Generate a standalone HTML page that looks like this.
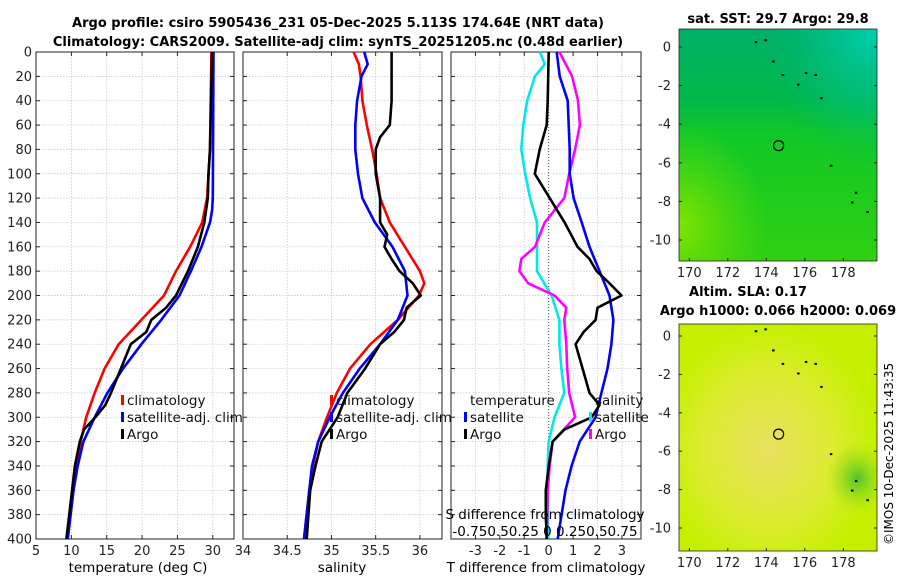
<!DOCTYPE html>
<html><head><meta charset="utf-8"><style>
body{margin:0;background:#fff;width:900px;height:580px;overflow:hidden}
svg{display:block;font-family:"DejaVu Sans","Liberation Sans",sans-serif}
</style></head><body>
<svg id="fig" width="900" height="580" viewBox="0 0 900 580" xmlns="http://www.w3.org/2000/svg">
<defs>
<linearGradient id="sstV" x1="0" y1="0" x2="0" y2="1">
<stop offset="0" stop-color="#00b068"/><stop offset="0.3" stop-color="#00b848"/><stop offset="0.45" stop-color="#10c828"/><stop offset="1" stop-color="#30d010"/></linearGradient>
<radialGradient id="sstTR" cx="1" cy="0" r="0.6"><stop offset="0" stop-color="#00d0b0"/><stop offset="0.5" stop-color="#00c498" stop-opacity="0.5"/><stop offset="1" stop-color="#00b070" stop-opacity="0"/></radialGradient>
<radialGradient id="sstBL" cx="0" cy="0.85" r="0.45"><stop offset="0" stop-color="#80e400"/><stop offset="1" stop-color="#60dc10" stop-opacity="0"/></radialGradient>
<radialGradient id="slaC" cx="0.45" cy="0.55" r="0.55"><stop offset="0" stop-color="#e8e060"/><stop offset="0.6" stop-color="#dcec30"/><stop offset="1" stop-color="#c4f000"/></radialGradient>
<radialGradient id="slaG" cx="0.9" cy="0.68" r="0.16"><stop offset="0" stop-color="#50c030"/><stop offset="1" stop-color="#a0e010" stop-opacity="0"/></radialGradient>
</defs>
<g id="plots"></g>
<text x="338" y="27" text-anchor="middle" font-size="13" font-weight="bold">Argo profile: csiro 5905436_231 05-Dec-2025 5.113S 174.64E (NRT data)</text>
<text x="338" y="46" text-anchor="middle" font-size="13" font-weight="bold">Climatology: CARS2009. Satellite-adj clim: synTS_20251205.nc (0.48d earlier)</text>
<text x="138" y="572" text-anchor="middle" font-size="13.5">temperature (deg C)</text>
<text x="342" y="572" text-anchor="middle" font-size="13.5">salinity</text>
<text x="546" y="572" text-anchor="middle" font-size="13.5">T difference from climatology</text>
<text x="545" y="519" text-anchor="middle" font-size="13.5">S difference from climatology</text>
<text x="545" y="536" text-anchor="middle" font-size="13.5">-0.750.50.25 0 0.250.50.75</text>
<text x="778" y="23" text-anchor="middle" font-size="13" font-weight="bold">sat. SST: 29.7 Argo: 29.8</text>
<text x="748" y="296" text-anchor="middle" font-size="13" font-weight="bold">Altim. SLA: 0.17</text>
<text x="778" y="315" text-anchor="middle" font-size="13" font-weight="bold">Argo h1000: 0.066 h2000: 0.069</text>
<text transform="translate(893,545) rotate(-90)" font-size="12">©IMOS 10-Dec-2025 11:43:35</text>
</svg>
<script>
const depthTicks=[0,20,40,60,80,100,120,140,160,180,200,220,240,260,280,300,320,340,360,380,400];
const tempTicks=[5,10,15,20,25,30];
const salTicks=[34,34.5,35,35.5,36];
const diffTicks=[-3,-2,-1,0,1,2,3];
const latTicks=[0,-2,-4,-6,-8,-10];
const lonTicks=[170,172,174,176,178];
// temperature profiles
const climTDepth=[0,80,120,140,160,180,200,220,240,260,280,300,320,340,360,400];
const climT=[29.8,29.6,29.2,28.5,26.8,24.8,23.1,19.9,16.7,14.7,13.3,12.1,11.3,10.7,10.3,9.4];
const satTDepth=[0,120,130,140,160,180,200,220,240,260,280,300,320,340,360,400];
const satT=[30.1,30.0,29.9,29.6,28.4,26.9,25.3,22.7,19.9,17.3,15.1,13.3,11.7,10.9,10.3,9.5];
const argoTDepth=[0,80,100,120,140,160,180,200,210,220,230,240,260,280,290,300,310,320,340,360,400];
const argoT=[29.9,29.6,29.4,29.3,28.8,27.9,26.5,24.8,23.4,21.3,20.6,18.4,17.0,15.6,14.8,13.4,11.8,11.2,10.5,10.1,9.3];
// salinity profiles
const climSDepth=[0,10,20,40,60,80,100,120,140,160,180,190,200,220,240,260,280,300,320,340,360,400];
const climS=[35.25,35.31,35.33,35.35,35.40,35.46,35.51,35.55,35.66,35.83,36.00,36.05,35.99,35.75,35.44,35.21,35.06,34.95,34.85,34.79,34.75,34.69];
const satSDepth=[0,10,20,40,60,80,100,120,140,160,180,200,220,240,260,280,300,320,340,360,400];
const satS=[35.37,35.41,35.34,35.29,35.27,35.27,35.30,35.35,35.49,35.69,35.83,35.86,35.75,35.55,35.32,35.13,34.98,34.85,34.78,34.75,34.69];
const argoSDepth=[0,40,60,70,80,100,120,140,150,160,170,180,190,200,210,220,230,240,260,280,300,320,340,360,400];
const argoS=[35.68,35.68,35.66,35.55,35.50,35.50,35.55,35.55,35.63,35.60,35.68,35.77,35.92,36.01,35.85,35.82,35.71,35.55,35.38,35.18,35.07,34.89,34.82,34.76,34.72];
// differences
const tSatDiffDepth=[0,20,40,60,80,100,120,140,160,180,200,220,240,260,280,300,320,340,360,380,400];
const tSatDiff=[0.33,0.45,0.78,0.82,0.86,0.86,1.02,1.35,1.67,2.08,2.49,2.65,2.57,2.41,2.16,1.92,1.27,0.94,0.69,0.53,0.37];
const tArgoDiffDepth=[0,40,60,80,100,120,140,160,170,180,190,200,210,220,230,240,260,280,290,300,310,320,340,360,380,400];
const tArgoDiff=[0,-0.04,-0.08,-0.37,-0.57,0.04,0.65,1.18,1.67,1.96,2.49,2.98,2.0,1.92,1.43,1.1,1.39,1.67,2.08,1.76,0.65,0.16,0,-0.12,-0.12,-0.08];
const sSatDiffDepth=[0,10,20,40,60,80,100,120,140,160,180,200,220,240,260,280,300,320,340,360,400];
const sSatDiff=[-0.09,-0.04,-0.14,-0.22,-0.26,-0.28,-0.24,-0.19,-0.12,-0.12,-0.12,0.03,0.11,0.11,0.13,0.16,0.06,0,-0.01,-0.01,-0.01];
const sArgoDiffDepth=[0,20,40,60,80,100,120,140,160,170,180,190,200,210,220,240,260,280,300,320,340,360,400];
const sArgoDiff=[0.11,0.24,0.30,0.32,0.27,0.21,0.16,-0.04,-0.14,-0.28,-0.30,-0.21,0.06,0.18,0.16,0.18,0.19,0.21,0.27,0.04,0.01,-0.01,-0.02];
// map markers
const floatLon=[174.64];
const floatLat=[-5.11];

const NS='http://www.w3.org/2000/svg';
const root=document.getElementById('plots');
function mk(tag,attrs,parent){const e=document.createElementNS(NS,tag);for(const k in attrs)e.setAttribute(k,attrs[k]);(parent||root).appendChild(e);return e;}
const top0=52,bot=539;
function yD(d){return top0+(d/400)*(bot-top0);}
const panels=[
 {x0:36,x1:234,v0:5,v1:33.0,ticks:tempTicks,name:'temperature-panel'},
 {x0:243,x1:442,v0:34,v1:36.25,ticks:salTicks,name:'salinity-panel'},
 {x0:451,x1:641,v0:-4.0,v1:3.78,ticks:diffTicks,name:'difference-panel'}];
function xf(p){return v=>p.x0+(v-p.v0)/(p.v1-p.v0)*(p.x1-p.x0);}
panels.forEach((p,i)=>{
 const g=mk('g',{});
 
 
 const X=xf(p);
 depthTicks.forEach(d=>{
  const l=mk('line',{x1:p.x0,x2:p.x1,y1:yD(d),y2:yD(d),stroke:'#b8c4dc','stroke-width':0.7,'stroke-dasharray':'1.5,1.5'},g);
  
  
  mk('line',{x1:p.x0,x2:p.x0+4,y1:yD(d),y2:yD(d),stroke:'#222'},g);
  mk('line',{x1:p.x1-4,x2:p.x1,y1:yD(d),y2:yD(d),stroke:'#222'},g);
  if(i===0){const t=mk('text',{x:p.x0-4,y:yD(d)+4.5,'text-anchor':'end','font-size':13,fill:'#222'},g);t.textContent=d;
   
   }
 });
 p.ticks.forEach(v=>{
  const x=X(v);
  mk('line',{x1:x,x2:x,y1:top0,y2:bot,stroke:'#b8c4dc','stroke-width':0.7,'stroke-dasharray':'1.5,1.5'},g);
  mk('line',{x1:x,x2:x,y1:bot-4,y2:bot,stroke:'#222'},g);
  mk('line',{x1:x,x2:x,y1:top0,y2:top0+4,stroke:'#222'},g);
  const t=mk('text',{x:x,y:bot+16,'text-anchor':'middle','font-size':13,fill:'#222'},g);t.textContent=v;
  
  
 });
 if(i===2){mk('line',{x1:X(0),x2:X(0),y1:top0,y2:bot,stroke:'#555','stroke-width':1,'stroke-dasharray':'1,2'},g);}
 const r=mk('rect',{x:p.x0,y:top0,width:p.x1-p.x0,height:bot-top0,fill:'none',stroke:'#222','stroke-width':1},g);
 
 
});
function line(pi,vals,deps,color,name){
 const X=xf(panels[pi]);
 const pts=vals.map((v,k)=>X(v).toFixed(1)+','+yD(deps[k]).toFixed(1)).join(' ');
 const pl=mk('polyline',{points:pts,fill:'none',stroke:color,'stroke-width':2.6,'stroke-linejoin':'round'});
 
 
}
line(0,climT,climTDepth,'#ff0000','temp-climatology-line');
line(0,satT,satTDepth,'#0000ff','temp-satellite-line');
line(0,argoT,argoTDepth,'#000000','temp-argo-line');
line(1,climS,climSDepth,'#ff0000','sal-climatology-line');
line(1,satS,satSDepth,'#0000ff','sal-satellite-line');
line(1,argoS,argoSDepth,'#000000','sal-argo-line');
line(2,sSatDiff.map(v=>v*4),sSatDiffDepth,'#00e8e8','s-satellite-diff-line');
line(2,sArgoDiff.map(v=>v*4),sArgoDiffDepth,'#ff00ff','s-argo-diff-line');
line(2,tSatDiff,tSatDiffDepth,'#0000ff','t-satellite-diff-line');
line(2,tArgoDiff,tArgoDiffDepth,'#000000','t-argo-diff-line');
// legends
function leg(x,y,color,label,name){
 const g=mk('g',{});
 
 
 if(color)mk('rect',{x:x,y:y-10,width:3,height:10,fill:color},g);
 const t=mk('text',{x:x+6,y:y,'font-size':13.5,fill:'#111'},g);t.textContent=label;
}
leg(121,405,'#ff0000','climatology','legend-entry-climatology');
leg(121,422,'#0000ff','satellite-adj. clim','legend-entry-satellite');
leg(121,439,'#000000','Argo','legend-entry-argo');
leg(330,405,'#ff0000','climatology','legend-entry-climatology-2');
leg(330,422,'#0000ff','satellite-adj. clim','legend-entry-satellite-2');
leg(330,439,'#000000','Argo','legend-entry-argo-2');
leg(464,405,null,'temperature','legend-heading-temperature');
leg(464,422,'#0000ff','satellite','legend-entry-t-satellite');
leg(464,439,'#000000','Argo','legend-entry-t-argo');
leg(589,405,null,'salinity','legend-heading-salinity');
leg(589,422,'#00e8e8','satellite','legend-entry-s-satellite');
leg(589,439,'#ff00ff','Argo','legend-entry-s-argo');
// maps
const maps=[{y0:29,y1:261,lat0y:47,lat10y:240,name:'sst-map',fill:['url(#sstV)','url(#sstTR)','url(#sstBL)']},
            {y0:324,y1:551,lat0y:336,lat10y:528,name:'sla-map',fill:['url(#slaC)','url(#slaG)']}];
const mx0=679,mx1=877;
function lonX(l){return 689.3+(l-170)*19.25;}
maps.forEach(m=>{
 const g=mk('g',{});
 
 
 m.fill.forEach(f=>mk('rect',{x:mx0,y:m.y0,width:mx1-mx0,height:m.y1-m.y0,fill:f},g));
 const latY=l=>m.lat0y+(-l/10)*(m.lat10y-m.lat0y);
 latTicks.forEach(l=>{
  const y=latY(l);
  mk('line',{x1:mx0,x2:mx0+3,y1:y,y2:y,stroke:'#222'},g);
  mk('line',{x1:mx1-3,x2:mx1,y1:y,y2:y,stroke:'#222'},g);
  const t=mk('text',{x:mx0-8,y:y+4.5,'text-anchor':'end','font-size':13,fill:'#222'},g);t.textContent=l;
  
  
 });
 lonTicks.forEach(l=>{
  const x=lonX(l);
  mk('line',{x1:x,x2:x,y1:m.y1-3,y2:m.y1,stroke:'#222'},g);
  const t=mk('text',{x:x,y:m.y1+16,'text-anchor':'middle','font-size':13,fill:'#222'},g);t.textContent=l;
  
  
 });
 // island dots
 [[173.4,0.3],[173.9,0.4],[174.3,-0.7],[174.8,-1.4],[176,-1.3],[176.5,-1.4],[175.6,-1.9],[176.8,-2.6],[177.3,-6.1],[178.4,-8.0],[178.6,-7.5],[179.2,-8.5]].forEach(p=>{
  mk('rect',{x:lonX(p[0]),y:latY(p[1]),width:2.5,height:2,fill:'#000'},g);
 });
 floatLon.forEach((lo,k)=>{
  const c=mk('circle',{cx:lonX(lo),cy:latY(floatLat[k]),r:5,fill:'none',stroke:'#000','stroke-width':1.2},g);
  
  
 });
 mk('rect',{x:mx0,y:m.y0,width:mx1-mx0,height:m.y1-m.y0,fill:'none',stroke:'#222','stroke-width':0.8},g);
});
</script>
</body></html>
